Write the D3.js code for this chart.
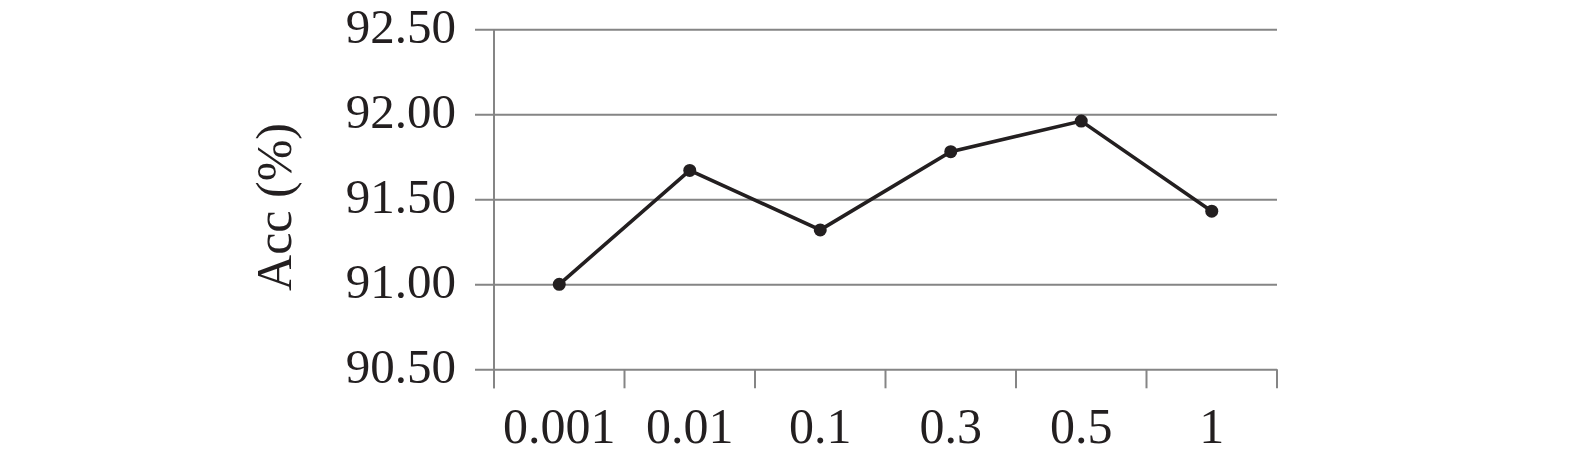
<!DOCTYPE html>
<html>
<head>
<meta charset="utf-8">
<script src="https://cdn.jsdelivr.net/npm/d3@7"></script>
<style>
  html, body { margin: 0; padding: 0; background: #fff; }
  svg { display: block; }
  text { font-family: "Liberation Serif", "Times New Roman", serif; fill: #231f20; }
</style>
</head>
<body>
<svg id="chart" width="1575" height="461"></svg>
<script>
const categories = ["0.001", "0.01", "0.1", "0.3", "0.5", "1"];
const accValues = [91.00, 91.67, 91.32, 91.78, 91.96, 91.43];
const yTicks = [90.5, 91.0, 91.5, 92.0, 92.5];
const yTickLabels = ["90.50", "91.00", "91.50", "92.00", "92.50"];
const yTitle = "Acc (%)";

(function () {
const svg = d3.select("#chart");
const plotLeft = 494, plotRight = 1277, plotTop = 29.3, plotBottom = 369.3;
const gridColor = "#858585";
const lineColor = "#231f20";

const x = d3.scaleBand().domain(categories).range([plotLeft, plotRight]).padding(0);
const y = d3.scaleLinear().domain([90.5, 92.5]).range([plotBottom, plotTop]);

// Horizontal gridlines (extend left of axis as ticks)
const yGrid = d3.axisRight(y).tickValues(yTicks).tickSize(plotRight - (plotLeft - 19)).tickFormat("");
svg.append("g")
  .attr("transform", `translate(${plotLeft - 19},0)`)
  .call(yGrid)
  .call(g => g.select(".domain").remove())
  .call(g => g.selectAll("line").attr("stroke", gridColor).attr("stroke-width", 2));

// Y tick labels
svg.append("g")
  .selectAll("text")
  .data(yTicks)
  .join("text")
  .attr("x", 456)
  .attr("y", d => y(d) + 13.7)
  .attr("text-anchor", "end")
  .attr("font-size", 49)
  .text((d, i) => yTickLabels[i]);

// Vertical axis line
svg.append("line")
  .attr("x1", plotLeft).attr("x2", plotLeft)
  .attr("y1", y(92.5)).attr("y2", plotBottom + 19)
  .attr("stroke", gridColor).attr("stroke-width", 2);

// X tick marks at category boundaries
const boundaries = categories.map(c => x(c)).concat([x(categories[categories.length - 1]) + x.bandwidth()]);
svg.append("g")
  .selectAll("line")
  .data(boundaries)
  .join("line")
  .attr("x1", d => d).attr("x2", d => d)
  .attr("y1", plotBottom).attr("y2", plotBottom + 19)
  .attr("stroke", gridColor).attr("stroke-width", 2);

// X labels via axis
const xAxis = d3.axisBottom(x).tickSize(0).tickPadding(0);
svg.append("g")
  .attr("transform", `translate(0,${plotBottom})`)
  .call(xAxis)
  .call(g => g.select(".domain").remove())
  .call(g => g.selectAll("text")
    .attr("font-size", 50)
    .attr("font-family", "Liberation Serif, serif")
    .attr("fill", lineColor)
    .attr("dy", null)
    .attr("y", 443.5 - plotBottom));

// Data line
const line = d3.line()
  .x((d, i) => x(categories[i]) + x.bandwidth() / 2)
  .y(d => y(d));
svg.append("path")
  .datum(accValues)
  .attr("d", line)
  .attr("fill", "none")
  .attr("stroke", lineColor)
  .attr("stroke-width", 3.6)
  .attr("stroke-linejoin", "miter");

svg.append("g")
  .selectAll("circle")
  .data(accValues)
  .join("circle")
  .attr("cx", (d, i) => x(categories[i]) + x.bandwidth() / 2)
  .attr("cy", d => y(d))
  .attr("r", 6.5)
  .attr("fill", lineColor);

// Y axis title
svg.append("text")
  .attr("transform", "translate(291,207) rotate(-90)")
  .attr("text-anchor", "middle")
  .attr("font-size", 50)
  .text(yTitle);
})();
</script>
</body>
</html>
